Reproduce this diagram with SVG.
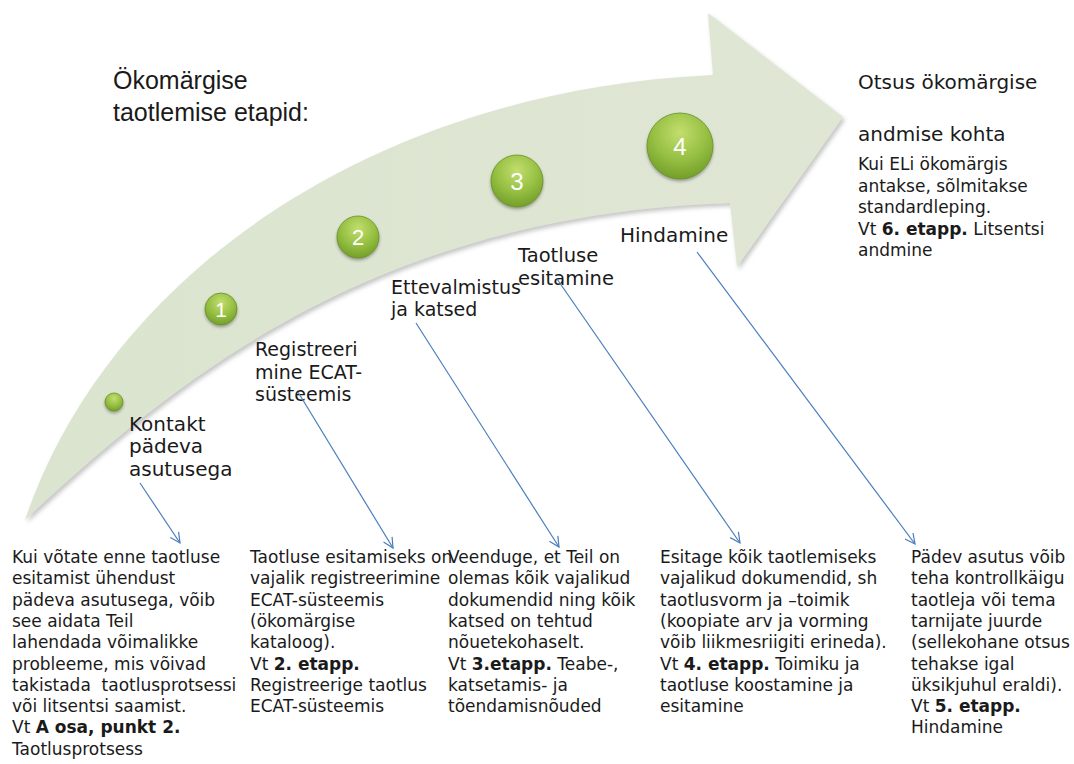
<svg xmlns="http://www.w3.org/2000/svg" width="1074" height="764" viewBox="0 0 1074 764">
<style>
.lbl{font-family:"DejaVu Sans","Liberation Sans",sans-serif;fill:#1a1a1a}
.desc{font-family:"DejaVu Sans","Liberation Sans",sans-serif;font-size:17px;fill:#1a1a1a}
.title{font-family:"Liberation Sans","Noto Sans",sans-serif;font-size:25px;fill:#1a1a1a}
.num{font-family:"Liberation Sans","Noto Sans",sans-serif;fill:#ffffff;text-anchor:middle}
.ball{fill:url(#ballGrad);stroke:#6a8f25;stroke-width:0.8;filter:url(#ballShadow)}
.conn{fill:none;stroke:#4a7ebb;stroke-width:1.2;marker-end:url(#vhead)}
</style>
<defs>
<linearGradient id="arrowGrad" x1="0" y1="0" x2="1" y2="0">
<stop offset="0" stop-color="#dbe4cf"/>
<stop offset="1" stop-color="#dfe7d4"/>
</linearGradient>
<radialGradient id="ballGrad" cx="0.5" cy="0.3" r="0.75">
<stop offset="0" stop-color="#c3de6e"/>
<stop offset="0.55" stop-color="#95bf42"/>
<stop offset="1" stop-color="#6e9a25"/>
</radialGradient>
<filter id="arrowShadow" x="-5%" y="-5%" width="110%" height="115%">
<feDropShadow dx="2" dy="3" stdDeviation="2" flood-color="#808080" flood-opacity="0.45"/>
</filter>
<filter id="ballShadow" x="-30%" y="-30%" width="160%" height="170%">
<feDropShadow dx="0" dy="2" stdDeviation="1.5" flood-color="#404040" flood-opacity="0.45"/>
</filter>
<marker id="vhead" viewBox="0 0 12 12" refX="11" refY="6" markerWidth="12" markerHeight="12" markerUnits="userSpaceOnUse" orient="auto">
<path d="M1,1 L11,6 L1,11" fill="none" stroke="#4a7ebb" stroke-width="1.2"/>
</marker>
</defs>
<rect width="1074" height="764" fill="#ffffff"/>

<g id="arrow">
<path d="M25,520 C110,270 380,90 713,75 L708,13 L843,117 L737,267 L730,203 C370,215 170,385 25,520 Z" fill="url(#arrowGrad)" filter="url(#arrowShadow)"/>
</g>

<g id="title">
<text class="title" x="113" y="89">Ökomärgise</text>
<text class="title" x="113" y="121">taotlemise etapid:</text>
</g>

<g id="step0">
<circle class="ball" cx="114" cy="402" r="9"/>
<text class="lbl" font-size="20" x="129" y="431">Kontakt</text>
<text class="lbl" font-size="20" x="129" y="453">pädeva</text>
<text class="lbl" font-size="20" x="129" y="476">asutusega</text>
</g>

<g id="step1">
<circle class="ball" cx="221" cy="309" r="16"/>
<text class="num" font-size="21" x="221" y="317">1</text>
<text class="lbl" font-size="19" x="255" y="356">Registreeri</text>
<text class="lbl" font-size="19" x="255" y="379">mine ECAT-</text>
<text class="lbl" font-size="19" x="255" y="401">süsteemis</text>
</g>

<g id="step2">
<circle class="ball" cx="358" cy="237" r="21"/>
<text class="num" font-size="22" x="358" y="245">2</text>
<text class="lbl" font-size="19" x="391" y="294">Ettevalmistus</text>
<text class="lbl" font-size="19" x="391" y="316">ja katsed</text>
</g>

<g id="step3">
<circle class="ball" cx="517" cy="181" r="26"/>
<text class="num" font-size="24" x="517" y="190">3</text>
<text class="lbl" font-size="19.5" x="518" y="262">Taotluse</text>
<text class="lbl" font-size="19.5" x="518" y="285">esitamine</text>
</g>

<g id="step4">
<circle class="ball" cx="680" cy="146" r="33"/>
<text class="num" font-size="24" x="680" y="155">4</text>
<text class="lbl" font-size="20" x="620" y="242">Hindamine</text>
</g>

<g id="step5">
<text class="lbl" font-size="20" x="858" y="89">Otsus ökomärgise</text>
<text class="lbl" font-size="20" x="858" y="141">andmise kohta</text>
<text class="desc" x="858" y="170">Kui ELi ökomärgis</text>
<text class="desc" x="858" y="191.5">antakse, sõlmitakse</text>
<text class="desc" x="858" y="213">standardleping.</text>
<text class="desc" x="858" y="234.5">Vt <tspan font-weight="bold">6. etapp.</tspan> Litsentsi</text>
<text class="desc" x="858" y="256">andmine</text>
</g>

<g id="desc1">
<text class="desc" x="12" y="563">Kui võtate enne taotluse</text>
<text class="desc" x="12" y="584.3">esitamist ühendust</text>
<text class="desc" x="12" y="605.6">pädeva asutusega, võib</text>
<text class="desc" x="12" y="626.9">see aidata Teil</text>
<text class="desc" x="12" y="648.2">lahendada võimalikke</text>
<text class="desc" x="12" y="669.5">probleeme, mis võivad</text>
<text class="desc" x="12" y="690.8" xml:space="preserve">takistada  taotlusprotsessi</text>
<text class="desc" x="12" y="712.1">või litsentsi saamist.</text>
<text class="desc" x="12" y="733.4">Vt <tspan font-weight="bold">A osa, punkt 2.</tspan></text>
<text class="desc" x="12" y="754.7">Taotlusprotsess</text>
</g>

<g id="desc2">
<text class="desc" x="250" y="563">Taotluse esitamiseks on</text>
<text class="desc" x="250" y="584.3">vajalik registreerimine</text>
<text class="desc" x="250" y="605.6">ECAT-süsteemis</text>
<text class="desc" x="250" y="626.9">(ökomärgise</text>
<text class="desc" x="250" y="648.2">kataloog).</text>
<text class="desc" x="250" y="669.5">Vt <tspan font-weight="bold">2. etapp.</tspan></text>
<text class="desc" x="250" y="690.8">Registreerige taotlus</text>
<text class="desc" x="250" y="712.1">ECAT-süsteemis</text>
</g>

<g id="desc3">
<text class="desc" x="448" y="563">Veenduge, et Teil on</text>
<text class="desc" x="448" y="584.3">olemas kõik vajalikud</text>
<text class="desc" x="448" y="605.6">dokumendid ning kõik</text>
<text class="desc" x="448" y="626.9">katsed on tehtud</text>
<text class="desc" x="448" y="648.2">nõuetekohaselt.</text>
<text class="desc" x="448" y="669.5">Vt <tspan font-weight="bold">3.etapp.</tspan> Teabe-,</text>
<text class="desc" x="448" y="690.8">katsetamis- ja</text>
<text class="desc" x="448" y="712.1">tõendamisnõuded</text>
</g>

<g id="desc4">
<text class="desc" x="660" y="563">Esitage kõik taotlemiseks</text>
<text class="desc" x="660" y="584.3">vajalikud dokumendid, sh</text>
<text class="desc" x="660" y="605.6">taotlusvorm ja –toimik</text>
<text class="desc" x="660" y="626.9">(koopiate arv ja vorming</text>
<text class="desc" x="660" y="648.2">võib liikmesriigiti erineda).</text>
<text class="desc" x="660" y="669.5">Vt <tspan font-weight="bold">4. etapp.</tspan> Toimiku ja</text>
<text class="desc" x="660" y="690.8">taotluse koostamine ja</text>
<text class="desc" x="660" y="712.1">esitamine</text>
</g>

<g id="desc5">
<text class="desc" x="911" y="563">Pädev asutus võib</text>
<text class="desc" x="911" y="584.3">teha kontrollkäigu</text>
<text class="desc" x="911" y="605.6">taotleja või tema</text>
<text class="desc" x="911" y="626.9">tarnijate juurde</text>
<text class="desc" x="911" y="648.2">(sellekohane otsus</text>
<text class="desc" x="911" y="669.5">tehakse igal</text>
<text class="desc" x="911" y="690.8">üksikjuhul eraldi).</text>
<text class="desc" x="911" y="712.1">Vt <tspan font-weight="bold">5. etapp.</tspan></text>
<text class="desc" x="911" y="733.4">Hindamine</text>
</g>

<g id="connectors">
<line class="conn" x1="140" y1="483" x2="180" y2="543"/>
<line class="conn" x1="298" y1="392" x2="393" y2="548"/>
<line class="conn" x1="416" y1="323" x2="559" y2="547"/>
<line class="conn" x1="557" y1="279" x2="740" y2="543"/>
<line class="conn" x1="697" y1="252" x2="915" y2="544"/>
</g>
</svg>
